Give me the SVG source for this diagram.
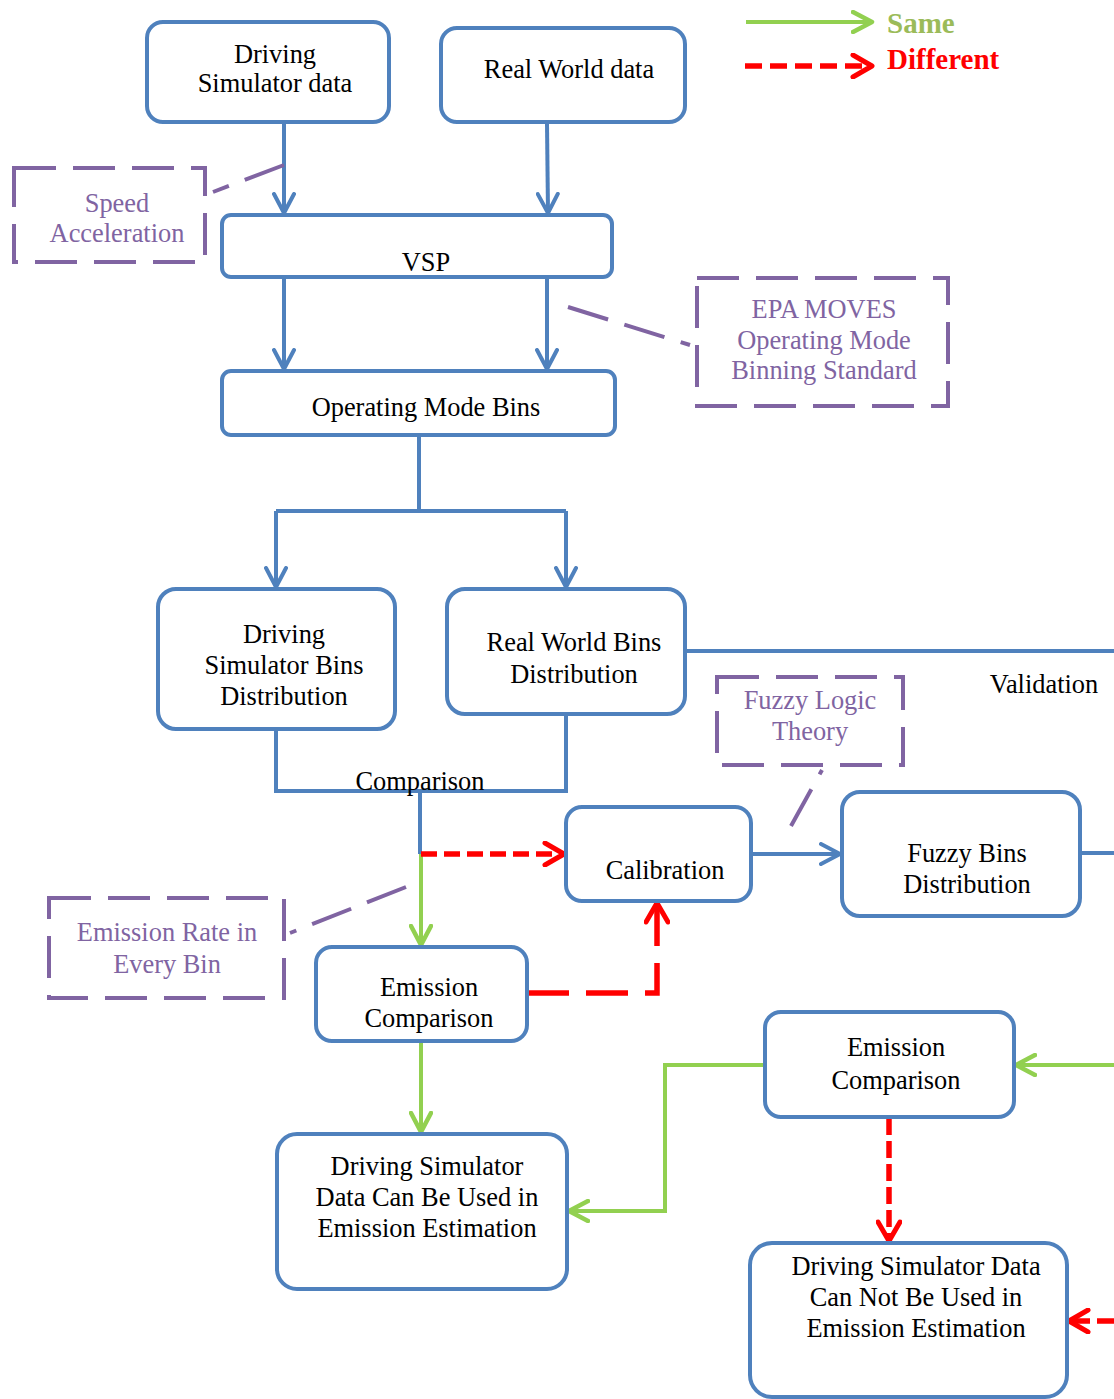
<svg xmlns="http://www.w3.org/2000/svg" width="1114" height="1399" viewBox="0 0 1114 1399">
<style>
.n{fill:#fff;stroke:#4f81bd;stroke-width:4}
.lbl{font-family:"Liberation Serif","Times New Roman",serif;font-size:26.4px;fill:#000000;text-anchor:middle}
.p{fill:none;stroke:#8064a2;stroke-width:4;stroke-dasharray:42 17}
.plbl{font-family:"Liberation Serif","Times New Roman",serif;font-size:26.4px;fill:#8064a2;text-anchor:middle}
.b{fill:none;stroke:#4f81bd;stroke-width:4}
.g{fill:none;stroke:#92d050;stroke-width:4}
.r{fill:none;stroke:#ff0000;stroke-width:5.5}
.lg{font-family:"Liberation Serif","Times New Roman",serif;font-size:29px;font-weight:bold}
</style>
<defs>
<marker id="ab" viewBox="0 0 24 24" markerWidth="24" markerHeight="24" refX="21" refY="12" orient="auto" markerUnits="userSpaceOnUse"><path d="M2,2 L21,12 L2,22" fill="none" stroke="#4f81bd" stroke-width="4" stroke-linecap="round" stroke-linejoin="round"/></marker>
<marker id="ag" viewBox="0 0 24 24" markerWidth="24" markerHeight="24" refX="21" refY="12" orient="auto" markerUnits="userSpaceOnUse"><path d="M2,2 L21,12 L2,22" fill="none" stroke="#92d050" stroke-width="4.5" stroke-linecap="round" stroke-linejoin="round"/></marker>
<marker id="ar" viewBox="0 0 26 26" markerWidth="26" markerHeight="26" refX="22" refY="13" orient="auto" markerUnits="userSpaceOnUse"><path d="M3,2 L22,13 L3,24" fill="none" stroke="#ff0000" stroke-width="5" stroke-linecap="round" stroke-linejoin="round"/></marker>
</defs>
<rect width="1114" height="1399" fill="#fff"/>

<g id="legend">
<line x1="746" y1="22" x2="872" y2="22" class="g" marker-end="url(#ag)"/>
<text x="887" y="33" class="lg" fill="#9bbb59">Same</text>
<line x1="745" y1="66" x2="872" y2="66" class="r" stroke-dasharray="17 8" marker-end="url(#ar)"/>
<text x="887" y="69" class="lg" fill="#ff0000">Different</text>
</g>

<g id="connectors">
<line x1="284" y1="122" x2="284" y2="213" class="b" marker-end="url(#ab)"/>
<line x1="547" y1="124" x2="548" y2="213" class="b" marker-end="url(#ab)"/>
<line x1="284" y1="277" x2="284" y2="369" class="b" marker-end="url(#ab)"/>
<line x1="547" y1="277" x2="547" y2="369" class="b" marker-end="url(#ab)"/>
<polyline points="419,435 419,511" class="b"/>
<polyline points="276,511 566,511" class="b"/>
<line x1="276" y1="511" x2="276" y2="587" class="b" marker-end="url(#ab)"/>
<line x1="566" y1="511" x2="566" y2="587" class="b" marker-end="url(#ab)"/>
<polyline points="276,729 276,791 566,791 566,714" class="b"/>
<line x1="420" y1="791" x2="420" y2="854" class="b"/>
<line x1="421" y1="854" x2="421" y2="945" class="g" marker-end="url(#ag)"/>
<line x1="421" y1="854" x2="564" y2="854" class="r" stroke-dasharray="16 7" marker-end="url(#ar)"/>
<line x1="751" y1="854" x2="840" y2="854" class="b" marker-end="url(#ab)"/>
<line x1="685" y1="651" x2="1114" y2="651" class="b"/>
<line x1="1080" y1="853" x2="1114" y2="853" class="b"/>
<line x1="421" y1="1041" x2="421" y2="1132" class="g" marker-end="url(#ag)"/>
<polyline points="527,993 657,993 657,903" class="r" stroke-dasharray="42 17" marker-end="url(#ar)"/>
<line x1="1114" y1="1065" x2="1016" y2="1065" class="g" marker-end="url(#ag)"/>
<polyline points="765,1065 665,1065 665,1211 569,1211" class="g" marker-end="url(#ag)"/>
<line x1="889" y1="1118" x2="889" y2="1241" class="r" stroke-dasharray="17 6" marker-end="url(#ar)"/>
<line x1="1114" y1="1321" x2="1069" y2="1321" class="r" stroke-dasharray="17 7" marker-end="url(#ar)"/>
<line x1="284" y1="165" x2="213" y2="192" class="p"/>
<line x1="568" y1="307" x2="690" y2="345" class="p"/>
<line x1="791" y1="826" x2="822" y2="770" class="p" stroke-dasharray="34 22 4 50"/>
<line x1="406" y1="887" x2="290" y2="933" class="p"/>
<text x="420" y="790" class="lbl">Comparison</text>
<text x="1044" y="693" class="lbl">Validation</text>
</g>

<g id="n-dsdata"><rect x="147" y="22" width="242" height="100" rx="16" class="n"/>
<text x="275" y="63" class="lbl">Driving</text><text x="275" y="92" class="lbl">Simulator data</text></g>
<g id="n-rwdata"><rect x="441" y="28" width="244" height="94" rx="16" class="n"/>
<text x="569" y="78" class="lbl">Real World data</text></g>
<g id="n-vsp"><rect x="222" y="215" width="390" height="62" rx="9" class="n"/>
<text x="426" y="271" class="lbl">VSP</text></g>
<g id="n-opmode"><rect x="222" y="371" width="393" height="64" rx="9" class="n"/>
<text x="426" y="416" class="lbl">Operating Mode Bins</text></g>
<g id="n-dsbins"><rect x="158" y="589" width="237" height="140" rx="18" class="n"/>
<text x="284" y="643" class="lbl">Driving</text><text x="284" y="674" class="lbl">Simulator Bins</text><text x="284" y="705" class="lbl">Distribution</text></g>
<g id="n-rwbins"><rect x="447" y="589" width="238" height="125" rx="18" class="n"/>
<text x="574" y="651" class="lbl">Real World Bins</text><text x="574" y="683" class="lbl">Distribution</text></g>
<g id="n-calib"><rect x="566" y="807" width="185" height="94" rx="16" class="n"/>
<text x="665" y="879" class="lbl">Calibration</text></g>
<g id="n-fuzzybins"><rect x="842" y="792" width="238" height="124" rx="18" class="n"/>
<text x="967" y="862" class="lbl">Fuzzy Bins</text><text x="967" y="893" class="lbl">Distribution</text></g>
<g id="n-emcomp1"><rect x="316" y="947" width="211" height="94" rx="16" class="n"/>
<text x="429" y="996" class="lbl">Emission</text><text x="429" y="1027" class="lbl">Comparison</text></g>
<g id="n-emcomp2"><rect x="765" y="1012" width="249" height="105" rx="16" class="n"/>
<text x="896" y="1056" class="lbl">Emission</text><text x="896" y="1089" class="lbl">Comparison</text></g>
<g id="n-canuse"><rect x="277" y="1134" width="290" height="155" rx="20" class="n"/>
<text x="427" y="1175" class="lbl">Driving Simulator</text><text x="427" y="1206" class="lbl">Data Can Be Used in</text><text x="427" y="1237" class="lbl">Emission Estimation</text></g>
<g id="n-cannot"><rect x="750" y="1243" width="317" height="154" rx="22" class="n"/>
<text x="916" y="1275" class="lbl">Driving Simulator Data</text><text x="916" y="1306" class="lbl">Can Not Be Used in</text><text x="916" y="1337" class="lbl">Emission Estimation</text></g>

<g id="c-speed"><rect x="14" y="168" width="191" height="94" class="p"/>
<text x="117" y="212" class="plbl">Speed</text><text x="117" y="242" class="plbl">Acceleration</text></g>
<g id="c-epa"><rect x="697" y="278" width="251" height="128" class="p"/>
<text x="824" y="318" class="plbl">EPA MOVES</text><text x="824" y="349" class="plbl">Operating Mode</text><text x="824" y="379" class="plbl">Binning Standard</text></g>
<g id="c-fuzzy"><rect x="717" y="677" width="186" height="88" class="p"/>
<text x="810" y="709" class="plbl">Fuzzy Logic</text><text x="810" y="740" class="plbl">Theory</text></g>
<g id="c-emrate"><rect x="49" y="898" width="235" height="100" class="p"/>
<text x="167" y="941" class="plbl">Emission Rate in</text><text x="167" y="973" class="plbl">Every Bin</text></g>
</svg>
